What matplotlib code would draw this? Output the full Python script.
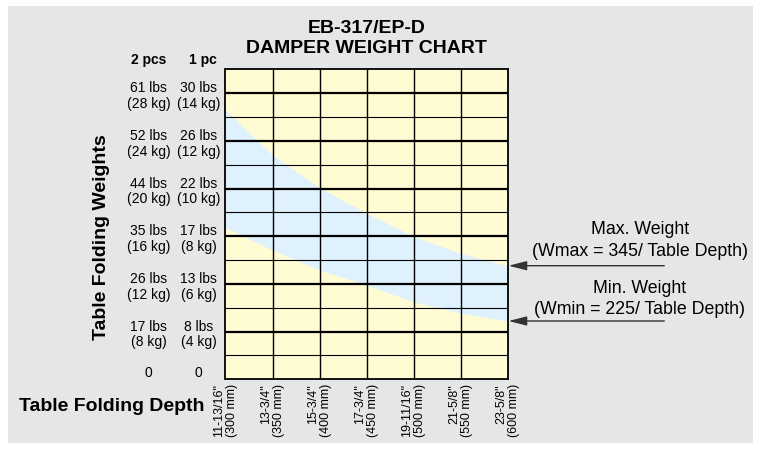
import matplotlib
matplotlib.use("Agg")
import matplotlib.pyplot as plt
from matplotlib.patches import Rectangle
import matplotlib.transforms as mtransforms

plt.rcParams['font.family'] = ['Liberation Sans', 'DejaVu Sans']

# ---- data ----
depth_mm = [300, 350, 400, 450, 500, 550, 600]
depth_in = ['11-13/16"', '13-3/4"', '15-3/4"', '17-3/4"', '19-11/16"', '21-5/8"', '23-5/8"']
weight_rows = [0, 2, 4, 6, 8, 10, 12]
two_pcs = ['0', '17 lbs\n(8 kg)', '26 lbs\n(12 kg)', '35 lbs\n(16 kg)',
           '44 lbs\n(20 kg)', '52 lbs\n(24 kg)', '61 lbs\n(28 kg)']
one_pc = ['0', '8 lbs\n(4 kg)', '13 lbs\n(6 kg)', '17 lbs\n(8 kg)',
          '22 lbs\n(10 kg)', '26 lbs\n(12 kg)', '30 lbs\n(14 kg)']
# band boundaries (grid-row units) read at each depth
max_weight = [11.29, 9.40, 8.03, 6.96, 5.98, 5.28, 4.76]
min_weight = [6.36, 5.42, 4.58, 3.95, 3.25, 2.77, 2.44]
n_rows = 13

W, H = 761, 450
fig = plt.figure(figsize=(W / 100, H / 100), dpi=100, facecolor='white')

# gray panel
fig.patches.append(Rectangle((8 / W, 1 - 443 / H), (753 - 8) / W, (443 - 6) / H,
                             transform=fig.transFigure, facecolor='#e5e6e8',
                             edgecolor='none', zorder=-10))

ax_l, ax_r, ax_t, ax_b = 225.5, 508.0, 69.3, 379.3
ax = fig.add_axes([ax_l / W, 1 - ax_b / H, (ax_r - ax_l) / W, (ax_b - ax_t) / H])
ax.set_zorder(1)
ax.set_facecolor('#fffbd3')
ax.set_xlim(depth_mm[0], depth_mm[-1])
ax.set_ylim(0, n_rows)

ax.fill_between(depth_mm, min_weight, max_weight, color='#dff1fc', lw=0, zorder=1)

for r in range(1, n_rows):
    thick = (r % 2 == 0)
    ax.axhline(r, color='black', lw=1.6 if thick else 0.8, zorder=2)
for d in depth_mm[1:-1]:
    ax.axvline(d, color='black', lw=1.0, zorder=2)
for s in ax.spines.values():
    s.set_linewidth(1.3)
    s.set_zorder(3)
ax.set_xticks([])
ax.set_yticks([])

# x labels
tx = mtransforms.blended_transform_factory(ax.transData, ax.transAxes)
for d, lab in zip(depth_mm, depth_in):
    ax.text(d, -0.015, f'{lab}\n({d} mm)', transform=tx, rotation=90,
            ha='center', va='top', multialignment='right', fontsize=9,
            linespacing=1.1, clip_on=False)

# y labels
ty = mtransforms.blended_transform_factory(ax.transAxes, ax.transData)
x2 = (148.5 - ax_l) / (ax_r - ax_l)
x1 = (198.5 - ax_l) / (ax_r - ax_l)
for r, a, b in zip(weight_rows, two_pcs, one_pc):
    yy = 0.28 if r == 0 else r - 0.12
    ax.text(x2, yy, a, transform=ty, ha='center', va='center', fontsize=10,
            linespacing=1.15, clip_on=False)
    ax.text(x1, yy, b, transform=ty, ha='center', va='center', fontsize=10,
            linespacing=1.15, clip_on=False)
ax.text((148.8 - ax_l) / (ax_r - ax_l), 13.39, '2 pcs', transform=ty, ha='center',
        va='center', fontsize=10, fontweight='bold', clip_on=False)
ax.text((202.7 - ax_l) / (ax_r - ax_l), 13.39, '1 pc', transform=ty, ha='center',
        va='center', fontsize=10, fontweight='bold', clip_on=False)

# titles
fig.text(366.7 / W, 1 - 28.8 / H, 'EB-317/EP-D', ha='center', va='center',
         fontsize=14, fontweight='bold')
fig.text(366.7 / W, 1 - 48.8 / H, 'DAMPER WEIGHT CHART', ha='center', va='center',
         fontsize=14, fontweight='bold')
fig.text(102 / W, 1 - 237.5 / H, 'Table Folding Weights', rotation=90, ha='center',
         va='center', fontsize=14, fontweight='bold')
fig.text(19 / W, 1 - 406.7 / H, 'Table Folding Depth', ha='left', va='center',
         fontsize=14, fontweight='bold')

# right annotations
fs_r = 12.75
fig.text(640 / W, 1 - 230 / H, 'Max. Weight', ha='center', va='center', fontsize=fs_r)
fig.text(640 / W, 1 - 252 / H, '(Wmax = 345/ Table Depth)', ha='center', va='center', fontsize=fs_r)
fig.text(640 / W, 1 - 288.3 / H, 'Min. Weight', ha='center', va='center', fontsize=fs_r)
fig.text(640 / W, 1 - 310 / H, '(Wmin = 225/ Table Depth)', ha='center', va='center', fontsize=fs_r)
for yp in (265.7, 321.0):
    ax.annotate('', xy=(508.5 / W, 1 - yp / H), xytext=(664.3 / W, 1 - yp / H),
                xycoords='figure fraction', textcoords='figure fraction',
                arrowprops=dict(arrowstyle='-|>,head_length=1.1,head_width=0.28',
                                lw=1.0, color='#333333', shrinkA=0, shrinkB=0,
                                mutation_scale=10))

fig.savefig('out.png', dpi=100, facecolor='white')
